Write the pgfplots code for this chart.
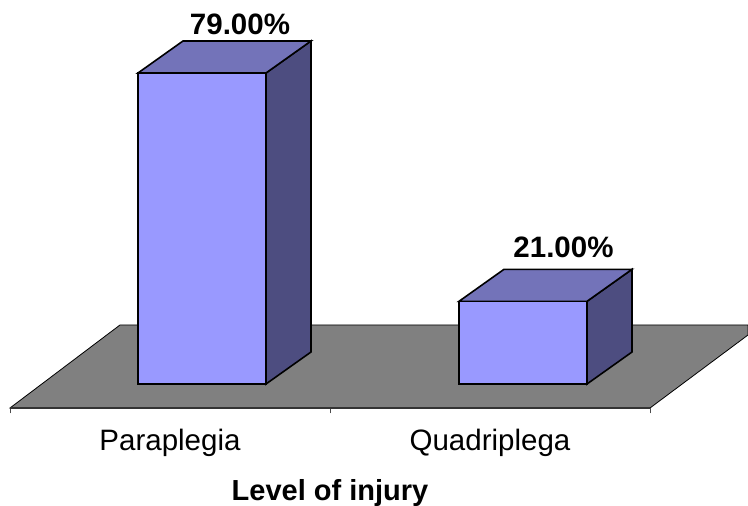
\documentclass[border=0pt]{standalone}
\usepackage{pgfplots}
\pgfplotsset{compat=1.18}
\usepackage{fontspec}
\setmainfont{Liberation Sans}
\definecolor{front}{HTML}{9999FF}
\definecolor{topf}{HTML}{7373B9}
\definecolor{sidef}{HTML}{4D4D80}
\definecolor{floorc}{HTML}{808080}
\begin{document}
\begin{tikzpicture}
\useasboundingbox (-10pt,-98pt) rectangle (738pt,408pt);
\begin{axis}[
  at={(0pt,0pt)}, anchor=south west,
  scale only axis, width=640pt, height=408pt,
  xmin=10, xmax=650, ymin=-6.096, ymax=97.54,
  clip=false, axis on top,
  axis y line=none, axis x line=bottom,
  axis line style={-, line width=1.1pt, color=black!80},
  xtick={170,490},
  xticklabels={Paraplegia,Quadriplega},
  major tick length=0pt,
  minor xtick={10,330,650},
  minor tick length=5.5pt,
  tick align=outside,
  minor tick style={line width=0.5pt, color=black!70},
  xticklabel style={font=\fontsize{29.5}{30}\selectfont, anchor=base, yshift=-43pt},
  xlabel={Level of injury},
  xlabel style={font=\fontsize{29}{30}\selectfont\bfseries, anchor=base, inner sep=0pt, at={(axis cs:330,-6.096)}, yshift=-93pt},
  every axis plot/.append style={line join=miter},
]
% floor
\addplot[fill=floorc, draw=black, line width=0.8pt] coordinates {(10,-6.096) (120,14.99) (748,14.99) (748,12.45) (650,-6.096)} -- cycle;
% bar 1 (79)
\addplot[fill=sidef, draw=black, line width=1.6pt] coordinates {(266,0) (311,8.13) (311,87.13) (266,79)} -- cycle;
\addplot[fill=topf, draw=black, line width=1.6pt] coordinates {(138,79) (183,87.13) (311,87.13) (266,79)} -- cycle;
\addplot[fill=front, draw=black, line width=1.6pt] coordinates {(138,0) (266,0) (266,79) (138,79)} -- cycle;
% bar 2 (21)
\addplot[fill=sidef, draw=black, line width=1.6pt] coordinates {(587,0) (632,8.13) (632,29.13) (587,21)} -- cycle;
\addplot[fill=topf, draw=black, line width=1.6pt] coordinates {(459,21) (504,29.13) (632,29.13) (587,21)} -- cycle;
\addplot[fill=front, draw=black, line width=1.6pt] coordinates {(459,0) (587,0) (587,21) (459,21)} -- cycle;
\node[anchor=base, font=\fontsize{29.5}{30}\selectfont\bfseries] at (axis cs:240,88.9) {79.00\%};
\node[anchor=base, font=\fontsize{29.5}{30}\selectfont\bfseries] at (axis cs:563.5,32.1) {21.00\%};
\end{axis}
\end{tikzpicture}
\end{document}
